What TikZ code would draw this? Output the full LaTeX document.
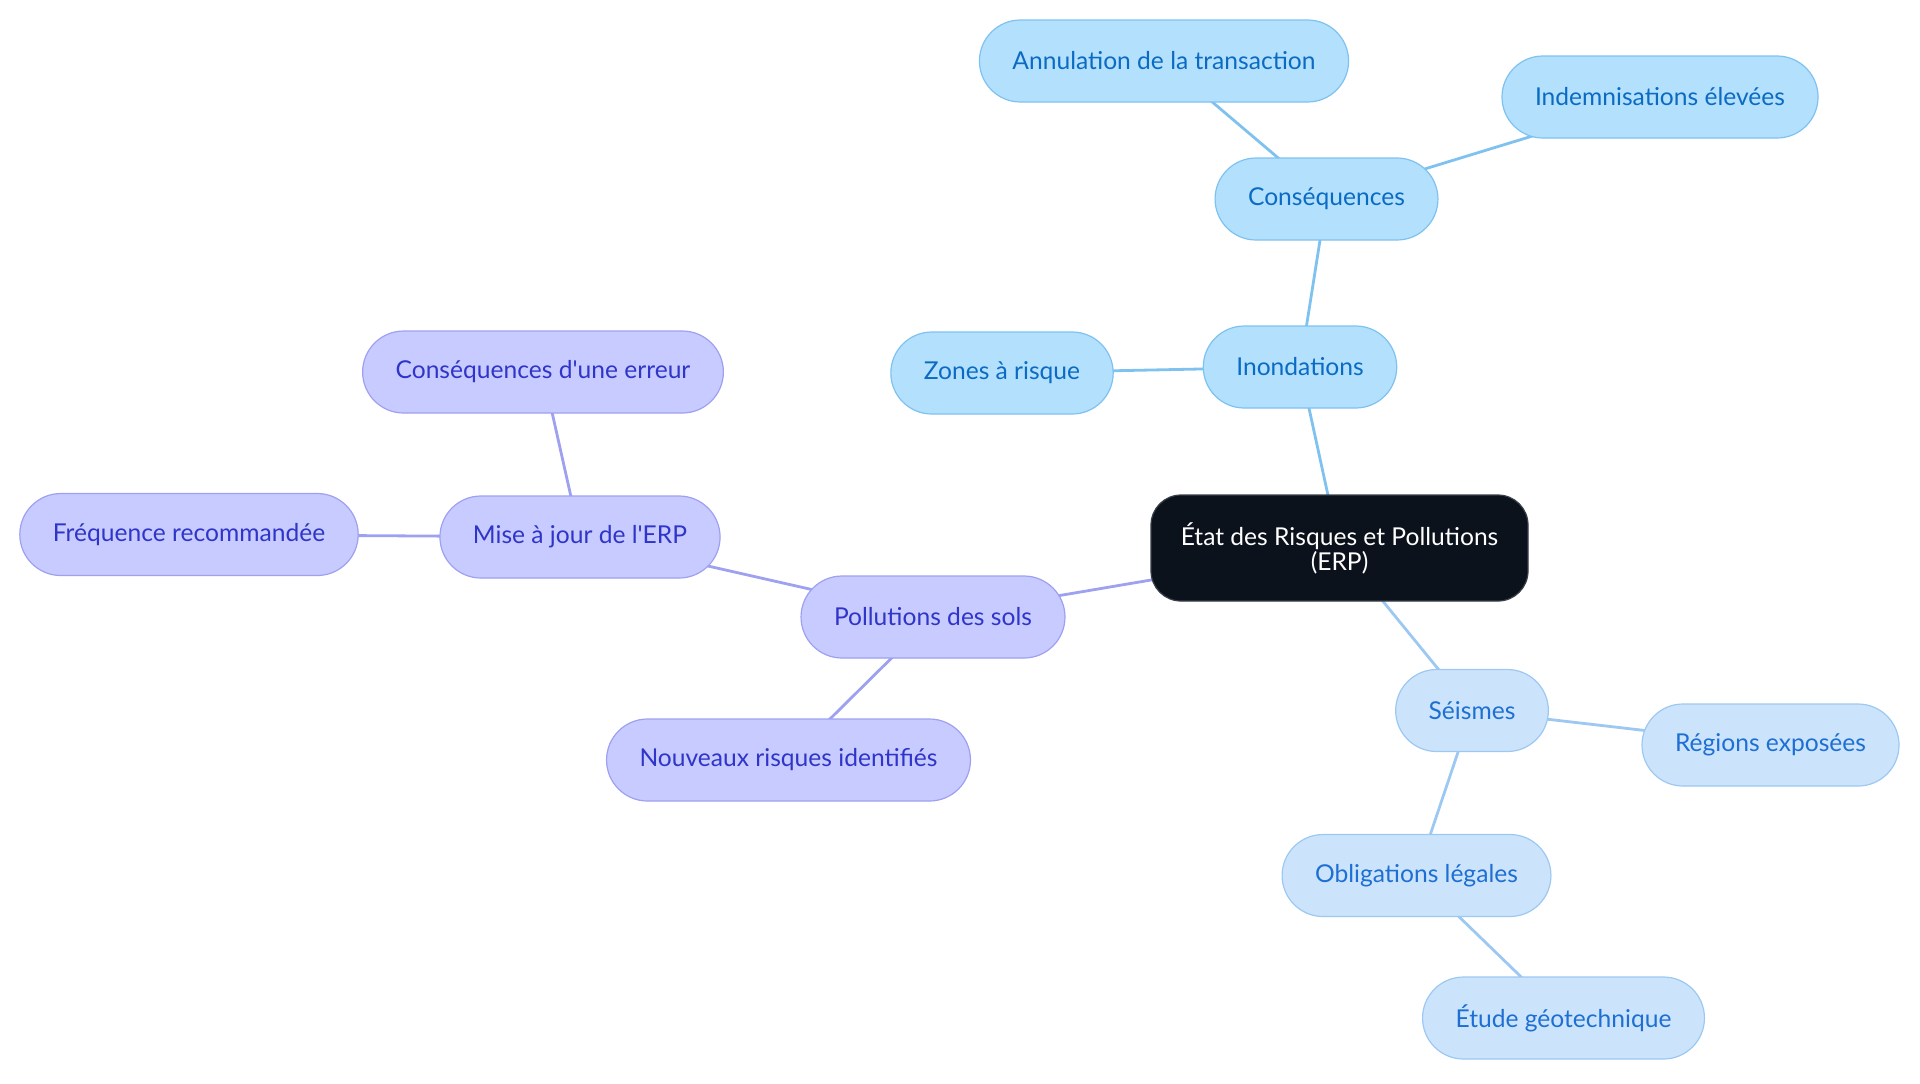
\documentclass[tikz,border=0pt]{standalone}
\usepackage{fontspec}
\setmainfont{Lato}
\usepackage{tikz}
\usetikzlibrary{backgrounds}

\definecolor{erpfill}{HTML}{0B121C}
\definecolor{erpline}{HTML}{3A4048}
\definecolor{inofill}{HTML}{B3E0FD}
\definecolor{inoline}{HTML}{7FC2F0}
\definecolor{inotext}{HTML}{0B6BC3}
\definecolor{seifill}{HTML}{CCE4FB}
\definecolor{seiline}{HTML}{9CC8F2}
\definecolor{seitext}{HTML}{1D6FD3}
\definecolor{polfill}{HTML}{C8CBFF}
\definecolor{polline}{HTML}{9EA0F0}
\definecolor{poltext}{HTML}{2F35C8}

\tikzset{
  base/.style={rounded corners=20.5pt, minimum height=41pt, inner xsep=16.5pt, font=\fontsize{12.3}{14}\selectfont, line width=0.6pt},
  erpbox/.style={base, rounded corners=15pt, minimum height=53pt, inner xsep=14pt, fill=erpfill, draw=erpline, text=white, align=center, font=\fontsize{12.3}{12.5}\selectfont},
  inobox/.style={base, fill=inofill, draw=inoline, text=inotext},
  seibox/.style={base, fill=seifill, draw=seiline, text=seitext},
  polbox/.style={base, fill=polfill, draw=polline, text=poltext},
  inoedge/.style={draw=inoline, line width=1.4pt},
  seiedge/.style={draw=seiline, line width=1.4pt},
  poledge/.style={draw=polline, line width=1.4pt},
}

\begin{document}
\begin{tikzpicture}[x=0.5pt, y=-0.5pt] % 1単位 = 1px、y軸は下向き
  \useasboundingbox (0,0) rectangle (1920,1083); % 画像の大きさ

  % 中心
  \node[erpbox, minimum width=188.5pt] (erp) at (1339.5,548) {État des Risques et Pollutions\\(ERP)};

  % 浸水
  \node[inobox] (inond) at (1300,367) {Inondations};
  \node[inobox] (cons) at (1326.5,199) {Conséquences};
  \node[inobox] (annul) at (1164,61) {Annulation de la transaction};
  \node[inobox] (indem) at (1660,97) {Indemnisations élevées};
  \node[inobox] (zones) at (1002,373) {Zones à risque};

  % 地震
  \node[seibox] (seis) at (1472,710.5) {Séismes};
  \node[seibox] (regions) at (1770.5,745) {Régions exposées};
  \node[seibox] (oblig) at (1416.5,875.5) {Obligations légales};
  \node[seibox] (etude) at (1563.5,1018) {Étude géotechnique};

  % 土壌汚染
  \node[polbox] (poll) at (933,617) {Pollutions des sols};
  \node[polbox] (mise) at (580,537) {Mise à jour de l\textquotesingle ERP};
  \node[polbox] (conserr) at (543,372) {Conséquences d\textquotesingle une erreur};
  \node[polbox] (freq) at (189,534.5) {Fréquence recommandée};
  \node[polbox] (nouv) at (788.5,760) {Nouveaux risques identifiés};

  \begin{pgfonlayer}{background} % 枝はノードの下
    \path[inoedge] (erp.center) -- (inond.center);
    \path[inoedge] (inond.center) -- (cons.center);
    \path[inoedge] (cons.center) -- (annul.center);
    \path[inoedge] (cons.center) -- (indem.center);
    \path[inoedge] (inond.center) -- (zones.center);
    \path[seiedge] (erp.center) -- (seis.center);
    \path[seiedge] (seis.center) -- (regions.center);
    \path[seiedge] (seis.center) -- (oblig.center);
    \path[seiedge] (oblig.center) -- (etude.center);
    \path[poledge] (erp.center) -- (poll.center);
    \path[poledge] (poll.center) -- (mise.center);
    \path[poledge] (mise.center) -- (conserr.center);
    \path[poledge] (mise.center) -- (freq.center);
    \path[poledge] (poll.center) -- (nouv.center);
  \end{pgfonlayer}
\end{tikzpicture}
\end{document}
